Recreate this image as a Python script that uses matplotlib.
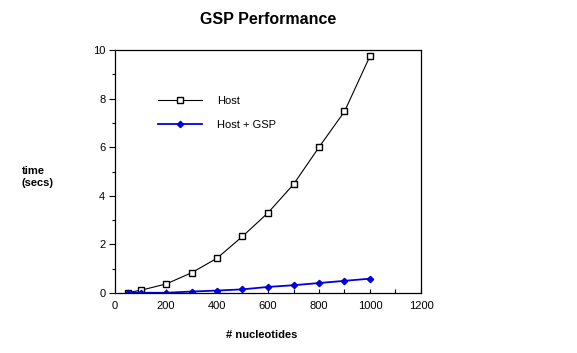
import matplotlib
matplotlib.use("Agg")
import matplotlib.pyplot as plt
from matplotlib.ticker import MultipleLocator

plt.rcParams['font.family'] = ['Liberation Sans', 'DejaVu Sans']

nucleotides = [50, 100, 200, 300, 400, 500, 600, 700, 800, 900, 1000]
host = [0.02, 0.11, 0.37, 0.83, 1.43, 2.33, 3.30, 4.47, 6.00, 7.47, 9.75]
host_gsp = [0.01, 0.01, 0.01, 0.06, 0.10, 0.15, 0.25, 0.32, 0.41, 0.50, 0.59]

fig = plt.figure(figsize=(5.77, 3.53), dpi=100)
ax = fig.add_axes([115/577, 1-293/353, (421-115)/577, (293-50)/353])

ax.plot(nucleotides, host, color='black', lw=0.8, marker='s', ms=5,
        mfc='white', mec='black', mew=1.0, label='Host')
ax.plot(nucleotides, host_gsp, color='#0000dd', lw=1.3, marker='D', ms=3.2,
        mfc='#0000dd', mec='#0000dd', label='Host + GSP')

ax.set_xlim(0, 1200)
ax.set_ylim(0, 10)
ax.xaxis.set_major_locator(MultipleLocator(200))
ax.xaxis.set_minor_locator(MultipleLocator(100))
ax.yaxis.set_major_locator(MultipleLocator(2))
ax.yaxis.set_minor_locator(MultipleLocator(1))
ax.tick_params(axis='x', which='both', direction='in', length=3, width=0.8,
               labelsize=8, pad=6)
ax.tick_params(axis='y', which='major', direction='out', length=4, width=0.8,
               labelsize=8, pad=3)
ax.tick_params(axis='y', which='minor', direction='out', length=2, width=0.8)
for s in ax.spines.values():
    s.set_linewidth(0.9)

fig.text(268/577, 1-19/353, 'GSP Performance', ha='center', va='center',
         fontsize=11.5, fontweight='bold')
fig.text(22/577, 1-177/353, 'time\n(secs)', ha='left', va='center',
         fontsize=8, fontweight='bold', linespacing=1.3)
fig.text(262/577, 1-335/353, '# nucleotides', ha='center', va='center',
         fontsize=8, fontweight='bold')

leg = ax.legend(loc='upper left', bbox_to_anchor=(0.127, 0.83), frameon=False,
                fontsize=8, handlelength=3.9, handletextpad=1.4,
                labelspacing=1.3, borderaxespad=0)

fig.savefig('out.png', dpi=100, facecolor='white')
